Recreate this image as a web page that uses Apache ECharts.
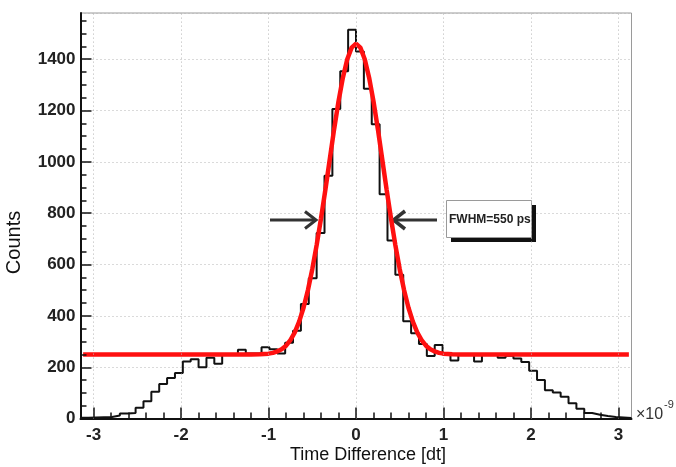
<!DOCTYPE html>
<html><head><meta charset="utf-8">
<script src="https://cdn.jsdelivr.net/npm/echarts@6/dist/echarts.min.js"></script>
<style>html,body{margin:0;padding:0;background:#fff}#c{width:676px;height:467px}</style>
</head><body><div id="c"></div>
<script>
// ---- data ----
const binStart = -3.15;
const binWidth = 0.09;
const counts = [3,4,5,6,12,20,22,42,68,105,
  135,158,178,222,231,200,237,214,250,250,
  268,254,254,278,270,254,295,342,446,547,
  723,946,1206,1353,1515,1430,1285,1147,874,694,
  560,379,332,291,244,287,250,226,250,250,
  222,250,250,237,245,234,220,186,150,110,
  102,85,60,38,22,15,10,6,4,2];
const fitX = [-3.12,-1.2,-1.1,-1.0,-0.95,-0.9,-0.85,-0.8,-0.75,-0.7,-0.65,-0.6,-0.55,-0.5,-0.45,-0.4,-0.35,-0.3,-0.25,-0.2,-0.15,-0.1,-0.05,0,
  0.05,0.1,0.15,0.2,0.25,0.3,0.35,0.4,0.45,0.5,0.55,0.6,0.65,0.7,0.75,0.8,0.85,0.9,0.95,1.0,1.1,1.2,3.12];
const fitY = [250,250,251,253,256,262,270,284,306,336,378,432,500,582,676,780,892,1010,1128,1236,1328,1400,1445,1460,
  1445,1400,1328,1236,1128,1010,892,780,676,582,500,432,378,336,306,284,270,262,256,253,251,250,250];
const xTickLabels = [-3,-2,-1,0,1,2,3];
const yTickLabels = [0,200,400,600,800,1000,1200,1400];
const xTitle = 'Time Difference [dt]';
const yTitle = 'Counts';
const noteText = 'FWHM=550 ps';
const expText = '\u00d710';
const expSup = '-9';

// ---- build ----
const xMin = -3.15, xMax = 3.15, yMin = 0, yMax = 1580;
const histPts = counts.map((c, i) => [binStart + i * binWidth, c]);
histPts.push([binStart + counts.length * binWidth, counts[counts.length - 1]]);
const fitPts = fitX.map((x, i) => [x, fitY[i]]);

// inner tick marks drawn as short markLine segments in axis units
const yPerPx = (yMax - yMin) / 405.2;
const xPerPx = (xMax - xMin) / 551;
const tickSegs = [];
for (let k = -15; k <= 15; k++) {
  const len = (k % 5 === 0 ? 11 : 6) * yPerPx;
  tickSegs.push([{ coord: [k / 5, yMin] }, { coord: [k / 5, yMin + len] }]);
}
for (let v = 0; v < yMax; v += 50) {
  const len = (v % 200 === 0 ? 11 : 6) * xPerPx;
  tickSegs.push([{ coord: [xMin, v] }, { coord: [xMin + len, v] }]);
}

const FONT = "'Liberation Sans', Arial, Helvetica, sans-serif";
const labelStyle = { fontFamily: FONT, fontSize: 17, fontWeight: 'bold', color: '#222', formatter: v => String(v) };
const dotted = { color: '#b5b5b5', width: 1, type: [1, 3] };

const chart = echarts.init(document.getElementById('c'), null, { renderer: 'canvas' });
chart.setOption({
  animation: false,
  backgroundColor: '#fff',
  grid: { left: 80.5, right: 44.5, top: 13, bottom: 48.4, show: true, borderColor: '#9a9a9a', borderWidth: 1, backgroundColor: 'transparent' },
  xAxis: { type: 'value', min: xMin, max: xMax, position: 'bottom',
    axisLine: { show: true, onZero: false, lineStyle: { color: '#111', width: 2 } },
    axisTick: { show: false },
    axisLabel: Object.assign({ customValues: xTickLabels, margin: 8 }, labelStyle),
    splitLine: { show: false } },
  yAxis: { type: 'value', min: yMin, max: yMax, interval: 200, position: 'left',
    axisLine: { show: true, onZero: false, lineStyle: { color: '#111', width: 2 } },
    axisTick: { show: false },
    axisLabel: Object.assign({ customValues: yTickLabels, margin: 5 }, labelStyle),
    splitLine: { show: true, lineStyle: dotted } },
  series: [
    { type: 'line', data: [[0, 0]], symbol: 'none', lineStyle: { opacity: 0 }, silent: true, z: 1,
      markLine: { silent: true, symbol: ['none', 'none'], label: { show: false }, lineStyle: dotted,
        data: xTickLabels.map(v => ({ xAxis: v })) } },
    { name: 'hist', type: 'line', data: histPts, step: 'end', symbol: 'none',
      lineStyle: { color: '#111', width: 2 }, z: 3 },
    { name: 'fit', type: 'line', data: fitPts, symbol: 'none', smooth: false,
      lineStyle: { color: '#ff1010', width: 4.5 }, z: 4 },
    { type: 'line', data: [[0, 0]], symbol: 'none', lineStyle: { opacity: 0 }, silent: true, z: 6,
      markLine: { silent: true, symbol: ['none', 'none'], label: { show: false }, precision: 6,
        lineStyle: { color: '#111', width: 1.5, type: 'solid' }, data: tickSegs } }
  ]
});

const arrowColor = '#333';
chart.setOption({
  graphic: [
    { type: 'text', left: 290, top: 446, style: { text: xTitle, font: "18px " + FONT, fill: '#111' } },
    { type: 'text', x: 14, y: 242.5, rotation: Math.PI / 2, style: { text: yTitle, font: "20px " + FONT, fill: '#111', align: 'center', verticalAlign: 'middle' } },
    { type: 'text', x: 636, y: 415, style: { text: expText, font: "16px " + FONT, fill: '#333', verticalAlign: 'middle' } },
    { type: 'text', x: 664, y: 405, style: { text: expSup, font: "11px " + FONT, fill: '#333', verticalAlign: 'middle' } },
    { type: 'line', shape: { x1: 270, y1: 220, x2: 314, y2: 220 }, style: { stroke: arrowColor, lineWidth: 3 } },
    { type: 'polyline', shape: { points: [[305, 211.5], [316, 220], [305, 228.5]] }, style: { stroke: arrowColor, lineWidth: 3, fill: null } },
    { type: 'line', shape: { x1: 396, y1: 220, x2: 437, y2: 220 }, style: { stroke: arrowColor, lineWidth: 3 } },
    { type: 'polyline', shape: { points: [[405, 211], [393.5, 220], [405, 229]] }, style: { stroke: arrowColor, lineWidth: 3.5, fill: null } },
    { type: 'rect', shape: { x: 451, y: 205, width: 85, height: 37 }, style: { fill: '#111' } },
    { type: 'rect', shape: { x: 446.5, y: 200.5, width: 85, height: 37 }, style: { fill: '#fff', stroke: '#9a9a9a', lineWidth: 1 } },
    { type: 'text', x: 449, y: 219.5, style: { text: noteText, font: "bold 12px " + FONT, fill: '#222', verticalAlign: 'middle' } }
  ]
});
</script>
</body></html>
